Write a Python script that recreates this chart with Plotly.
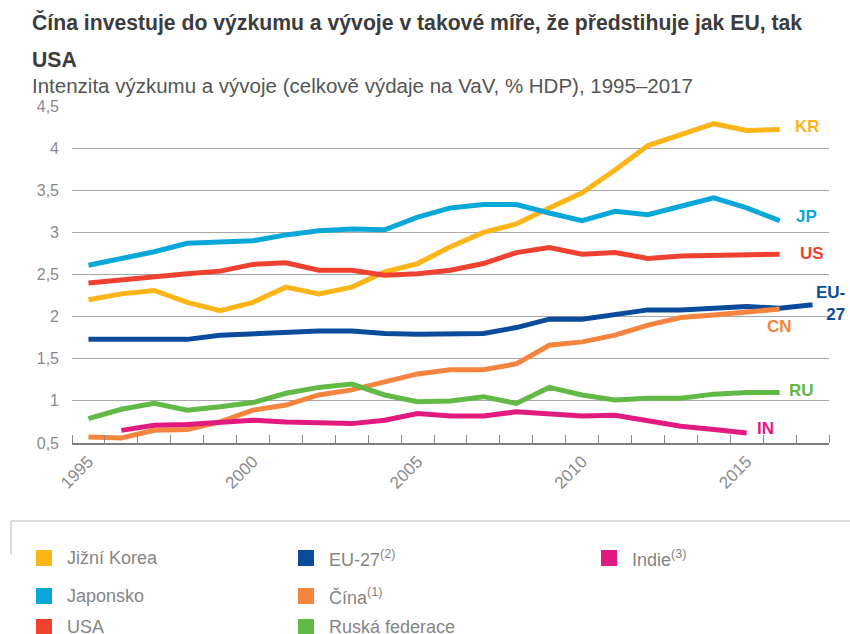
import plotly.graph_objects as go

years = list(range(1995, 2018))

kr = [2.20, 2.27, 2.31, 2.17, 2.07, 2.17, 2.35, 2.27, 2.35, 2.53, 2.63, 2.83, 3.00, 3.10, 3.29, 3.47, 3.74, 4.03, 4.16, 4.29, 4.21, 4.22, None]
jp = [2.61, 2.69, 2.77, 2.87, 2.89, 2.90, 2.97, 3.02, 3.04, 3.03, 3.18, 3.29, 3.33, 3.33, 3.23, 3.14, 3.25, 3.21, 3.31, 3.41, 3.29, 3.14, None]
us = [2.40, 2.44, 2.48, 2.51, 2.54, 2.62, 2.64, 2.55, 2.55, 2.49, 2.51, 2.55, 2.63, 2.76, 2.82, 2.74, 2.76, 2.69, 2.72, 2.73, 2.74, 2.74, None]
eu = [1.73, 1.73, 1.73, 1.73, 1.78, 1.80, 1.82, 1.83, 1.83, 1.80, 1.79, 1.80, 1.80, 1.87, 1.97, 1.97, 2.02, 2.08, 2.08, 2.10, 2.12, 2.10, 2.14]
cn = [0.57, 0.56, 0.65, 0.66, 0.75, 0.89, 0.95, 1.07, 1.13, 1.22, 1.32, 1.37, 1.37, 1.44, 1.66, 1.70, 1.78, 1.90, 1.99, 2.02, 2.05, 2.09, None]
ru = [0.79, 0.90, 0.97, 0.89, 0.93, 0.98, 1.09, 1.16, 1.20, 1.07, 0.99, 1.00, 1.05, 0.97, 1.16, 1.07, 1.01, 1.03, 1.03, 1.08, 1.10, 1.10, None]
ind = [None, 0.65, 0.71, 0.72, 0.74, 0.77, 0.75, 0.74, 0.73, 0.77, 0.85, 0.82, 0.82, 0.87, 0.85, 0.82, 0.83, 0.77, 0.70, 0.66, 0.62, None, None]

codes = ["KR", "JP", "US", "EU-<br>27", "CN", "RU", "IN"]
names = ["Jižní Korea", "Japonsko", "USA", "EU-27<sup>(2)</sup>", "Čína<sup>(1)</sup>", "Ruská federace", "Indie<sup>(3)</sup>"]
colors = ["#fbb519", "#0aa8d8", "#ee4130", "#0a4b9c", "#f5843f", "#63b946", "#e2197f"]
series = [kr, jp, us, eu, cn, ru, ind]

title1 = "Čína investuje do výzkumu a vývoje v takové míře, že předstihuje jak EU, tak"
title2 = "USA"
subtitle = "Intenzita výzkumu a vývoje (celkově výdaje na VaV, % HDP), 1995–2017"
y_ticks = [0.5, 1, 1.5, 2, 2.5, 3, 3.5, 4, 4.5]
x_ticks = [1995, 2000, 2005, 2010, 2015]

FONT = "Liberation Sans"
W, H = 850, 634
L, R, T, B = 72, 21, 106, 191

fig = go.Figure()
for s, c, n in zip(series, colors, names):
    fig.add_trace(go.Scatter(x=years, y=s, mode="lines", name=n,
                             line=dict(color=c, width=5), showlegend=False,
                             connectgaps=False))

# end labels (offsets relative to last point of each series)
label_off = [(13, 3, "left"), (14, 4, "left"), (18, 1, "left"), (34, 1, "right"),
             (0, -17, "center"), (7, 2, "left"), (8, 4, "left")]
for s, c, code, (dx, dy, xa) in zip(series, colors, codes, label_off):
    idx = max(i for i, v in enumerate(s) if v is not None)
    fig.add_annotation(x=years[idx], y=s[idx], text=f"<b>{code}</b>", showarrow=False,
                       xanchor=xa, yanchor="middle", xshift=dx, yshift=dy, align="right",
                       font=dict(family=FONT, size=17, color=c))

def px2paper(px, py):
    return (px - L) / (W - L - R), (H - B - py) / (H - T - B)

# titles
for txt, py, size, bold, col in [(title1, 22, 21.2, True, "#3c3c3c"), (title2, 60, 21.2, True, "#3c3c3c"),
                                 (subtitle, 86, 20.5, False, "#555555")]:
    x, y = px2paper(30, py)
    fig.add_annotation(x=x, y=y, xref="paper", yref="paper", xanchor="left", yanchor="middle",
                       text=f"<b>{txt}</b>" if bold else txt, showarrow=False,
                       font=dict(family=FONT, size=size, color=col))

# legend frame
x0, y0 = px2paper(11, 521)
x1, _ = px2paper(850, 521)
_, y2 = px2paper(11, 555)
fig.add_shape(type="line", xref="paper", yref="paper", x0=x0, y0=y0, x1=x1, y1=y0,
              line=dict(color="#cfcfcf", width=1.5))
fig.add_shape(type="line", xref="paper", yref="paper", x0=x0, y0=y0, x1=x0, y1=y2,
              line=dict(color="#cfcfcf", width=1.5))

# legend items (column-wise)
col_x = [36, 298, 601]
row_y = [558, 596, 627]
for k in range(len(names)):
    cx = col_x[k // 3]
    ry = row_y[k % 3]
    ax0, ay0 = px2paper(cx, ry - 8)
    ax1, ay1 = px2paper(cx + 16, ry + 8)
    fig.add_shape(type="rect", xref="paper", yref="paper", x0=ax0, y0=ay0, x1=ax1, y1=ay1,
                  line=dict(width=0), fillcolor=colors[k])
    tx, ty = px2paper(cx + 29, ry)
    fig.add_annotation(x=tx, y=ty, xref="paper", yref="paper", xanchor="left", yanchor="middle",
                       text=names[k], showarrow=False,
                       font=dict(family=FONT, size=18, color="#858585"))

fig.update_layout(
    width=W, height=H,
    margin=dict(l=L, r=R, t=T, b=B),
    plot_bgcolor="white", paper_bgcolor="white",
    separators=", ",
    showlegend=False,
    font=dict(family=FONT),
    xaxis=dict(range=[1994.5, 2017.5], tickvals=x_ticks, ticks="", tickangle=-45,
               showgrid=False, zeroline=False, showline=True, linecolor="#808080", linewidth=2,
               tickfont=dict(family=FONT, size=17, color="#8a8a8a"),
               minor=dict(ticks="inside", tick0=1994.5, dtick=1, ticklen=8,
                          tickcolor="#8a8a8a", tickwidth=1, showgrid=False)),
    yaxis=dict(range=[0.5, 4.5], tickvals=y_ticks, showgrid=True, gridcolor="#a8a8a8",
               gridwidth=1, zeroline=False, showline=False, ticks="",
               tickfont=dict(family=FONT, size=16, color="#8a8a8a"), ticklabelstandoff=12),
)

fig.write_html("out.html", config={"displayModeBar": False},
               post_script="document.body.style.margin='0';document.body.style.overflow='hidden';")
